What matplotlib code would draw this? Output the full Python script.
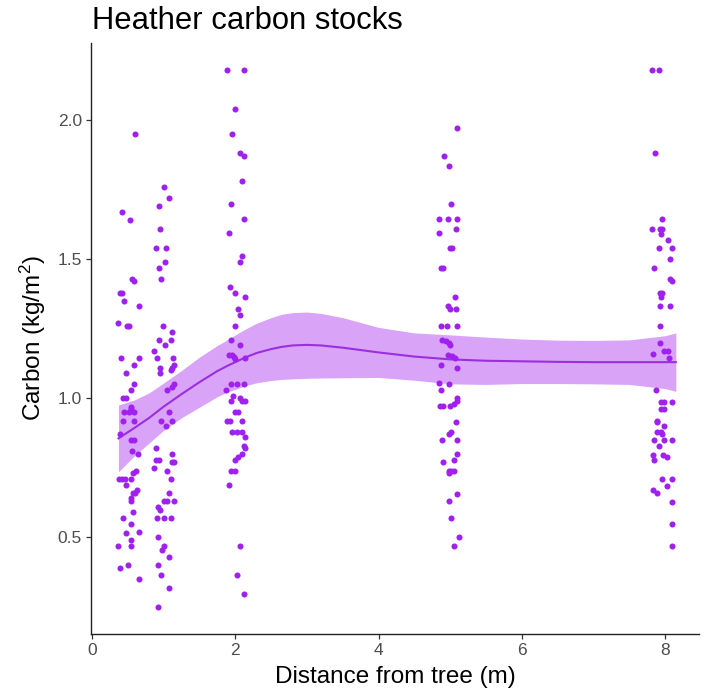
import matplotlib
matplotlib.use("Agg")
import matplotlib.pyplot as plt

plt.rcParams['font.family'] = ['Liberation Sans', 'DejaVu Sans']
plt.rcParams['mathtext.fontset'] = 'custom'
plt.rcParams['mathtext.rm'] = 'Liberation Sans'
plt.rcParams['mathtext.it'] = 'Liberation Sans:italic'

# heather carbon samples, jittered around 0.5, 1, 2, 5 and 8 m
dist_near = [0.60, 0.42, 0.53, 0.56, 0.59, 0.39, 0.42, 0.45, 0.66, 0.37, 0.49, 0.52,
             0.40, 0.65, 0.58, 0.48, 0.58, 0.55, 0.44, 0.48, 0.54, 0.55, 0.45, 0.51,
             0.58, 0.44, 0.59, 0.39, 0.54, 0.59, 0.56, 0.64, 0.62, 0.57, 0.38, 0.42,
             0.46, 0.55, 0.47, 0.63, 0.60, 0.57, 0.55, 0.54, 0.57, 0.43, 0.54, 0.65,
             0.47, 0.55, 0.54, 0.37, 0.39, 0.50, 0.65]
carbon_near = [1.95, 1.67, 1.64, 1.43, 1.42, 1.38, 1.38, 1.35, 1.33, 1.27, 1.26, 1.26,
               1.145, 1.145, 1.12, 1.09, 1.05, 1.03, 1.00, 1.00, 0.97, 0.96, 0.95, 0.95,
               0.95, 0.92, 0.92, 0.87, 0.85, 0.85, 0.81, 0.80, 0.74, 0.73, 0.71, 0.71,
               0.71, 0.71, 0.69, 0.67, 0.66, 0.66, 0.64, 0.63, 0.59, 0.57, 0.55, 0.52,
               0.515, 0.49, 0.47, 0.47, 0.39, 0.40, 0.35]

dist_1m = [1.00, 1.07, 0.94, 0.95, 0.89, 1.04, 1.02, 0.94, 0.97, 0.99, 1.12, 0.93,
           1.10, 1.02, 0.87, 0.91, 1.13, 0.95, 1.15, 1.12, 0.95, 1.10, 1.15, 1.12,
           1.05, 1.07, 0.97, 1.12, 1.03, 0.89, 1.12, 0.89, 0.93, 1.12, 1.14, 0.87,
           1.05, 1.10, 1.07, 1.01, 1.05, 1.14, 0.92, 0.95, 0.91, 1.00, 1.11, 0.92,
           1.00, 0.98, 1.08, 0.92, 0.97, 1.08, 0.92]
carbon_1m = [1.76, 1.72, 1.69, 1.61, 1.54, 1.54, 1.49, 1.47, 1.43, 1.26, 1.24, 1.21,
             1.21, 1.19, 1.17, 1.145, 1.145, 1.11, 1.12, 1.11, 1.09, 1.10, 1.05, 1.04,
             1.03, 0.95, 0.92, 0.92, 0.90, 0.82, 0.80, 0.78, 0.78, 0.77, 0.77, 0.75,
             0.74, 0.71, 0.66, 0.63, 0.63, 0.63, 0.61, 0.60, 0.57, 0.57, 0.57, 0.50,
             0.47, 0.455, 0.43, 0.40, 0.365, 0.32, 0.25]

dist_2m = [1.89, 2.12, 2.00, 1.96, 2.06, 2.12, 2.09, 1.94, 2.12, 1.91, 2.09, 2.07,
           1.93, 2.00, 2.14, 2.04, 2.07, 2.00, 1.94, 2.06, 1.91, 1.95, 1.98, 1.99,
           2.14, 1.94, 2.02, 2.12, 1.87, 1.97, 1.94, 2.07, 2.10, 2.14, 1.99, 2.04,
           1.89, 1.93, 2.09, 1.96, 2.02, 2.09, 2.14, 2.12, 2.14, 2.09, 2.04, 2.00,
           1.94, 2.00, 1.91, 2.06, 2.02, 2.12]
carbon_2m = [2.18, 2.18, 2.04, 1.95, 1.88, 1.87, 1.78, 1.70, 1.645, 1.595, 1.51, 1.49,
             1.40, 1.38, 1.365, 1.32, 1.30, 1.26, 1.21, 1.19, 1.157, 1.157, 1.15, 1.14,
             1.145, 1.05, 1.05, 1.05, 1.03, 1.01, 0.99, 1.00, 0.99, 0.99, 0.95, 0.95,
             0.92, 0.92, 0.92, 0.88, 0.88, 0.88, 0.86, 0.83, 0.82, 0.80, 0.79, 0.78,
             0.74, 0.74, 0.69, 0.47, 0.365, 0.295]

dist_5m = [5.10, 4.92, 4.98, 5.01, 4.85, 4.97, 5.10, 4.85, 5.08, 5.00, 5.03, 4.87,
           4.90, 5.07, 4.97, 5.00, 5.08, 4.87, 4.95, 5.10, 4.89, 4.94, 4.98, 5.00,
           4.97, 5.03, 5.07, 4.87, 5.10, 4.84, 4.98, 4.87, 4.86, 4.90, 5.00, 5.05,
           5.10, 5.10, 5.08, 5.01, 4.98, 4.88, 5.10, 5.10, 5.05, 4.90, 4.98, 5.01,
           5.05, 4.98, 5.10, 4.98, 5.01, 5.13, 5.05]
carbon_5m = [1.97, 1.87, 1.835, 1.70, 1.645, 1.645, 1.645, 1.595, 1.61, 1.54, 1.54, 1.47,
             1.47, 1.365, 1.33, 1.32, 1.32, 1.26, 1.26, 1.26, 1.21, 1.206, 1.20, 1.19,
             1.157, 1.152, 1.145, 1.12, 1.11, 1.054, 1.05, 1.03, 0.974, 0.974, 0.974, 0.98,
             0.99, 1.00, 0.915, 0.88, 0.87, 0.85, 0.85, 0.80, 0.78, 0.77, 0.74, 0.74,
             0.74, 0.73, 0.656, 0.63, 0.57, 0.50, 0.47]

dist_8m = [7.82, 7.91, 7.86, 7.96, 7.82, 7.93, 7.96, 7.94, 8.04, 7.91, 8.09, 8.07,
           7.84, 8.07, 8.09, 7.93, 7.96, 7.94, 7.93, 8.07, 7.93, 7.93, 7.99, 8.04,
           7.83, 8.06, 7.87, 7.94, 7.99, 8.09, 7.94, 7.99, 7.89, 7.88, 7.99, 7.89,
           7.96, 7.94, 7.84, 7.99, 8.09, 7.91, 7.83, 7.85, 7.97, 8.02, 7.96, 8.10,
           8.02, 7.83, 7.88, 8.09, 8.09, 8.10]
carbon_8m = [2.18, 2.18, 1.88, 1.645, 1.61, 1.61, 1.61, 1.59, 1.57, 1.54, 1.54, 1.50,
             1.47, 1.43, 1.42, 1.38, 1.38, 1.365, 1.33, 1.33, 1.26, 1.20, 1.17, 1.17,
             1.16, 1.145, 1.03, 0.987, 0.987, 0.987, 0.96, 0.96, 0.92, 0.915, 0.90, 0.88,
             0.87, 0.88, 0.85, 0.85, 0.85, 0.83, 0.795, 0.78, 0.795, 0.79, 0.71, 0.71,
             0.686, 0.67, 0.66, 0.627, 0.55, 0.47]

# loess fit and its confidence band
fit_x = [0.37, 0.6, 0.8, 1.0, 1.25, 1.5, 1.75, 1.9, 2.0, 2.15, 2.3, 2.5, 2.65, 2.8,
         3.0, 3.2, 3.5, 4.0, 4.5, 5.0, 5.5, 6.0, 6.5, 7.0, 7.5, 8.0, 8.15]
fit_y = [0.856, 0.895, 0.93, 0.97, 1.015, 1.058, 1.098, 1.118, 1.13, 1.148, 1.163, 1.177,
         1.185, 1.19, 1.192, 1.19, 1.182, 1.165, 1.15, 1.14, 1.135, 1.133, 1.131, 1.13,
         1.13, 1.13, 1.13]
fit_hi = [0.976, 0.995, 1.02, 1.055, 1.10, 1.148, 1.19, 1.212, 1.228, 1.25, 1.27, 1.29,
          1.302, 1.308, 1.31, 1.305, 1.29, 1.255, 1.235, 1.228, 1.22, 1.213, 1.209,
          1.208, 1.21, 1.225, 1.235]
fit_lo = [0.736, 0.795, 0.84, 0.885, 0.93, 0.968, 1.006, 1.024, 1.032, 1.046, 1.056, 1.064,
          1.068, 1.07, 1.072, 1.073, 1.074, 1.075, 1.065, 1.052, 1.05, 1.053, 1.053,
          1.052, 1.05, 1.035, 1.025]

x_ticks = [0, 2, 4, 6, 8]
y_ticks = [0.5, 1.0, 1.5, 2.0]
y_tick_labels = ['0.5', '1.0', '1.5', '2.0']

fig = plt.figure(figsize=(7.04, 6.88), dpi=100)
ax = fig.add_axes([0.1286, 0.0785, 0.865, 0.859])

pt_col = '#a020f0'
ax.fill_between(fit_x, fit_lo, fit_hi, color='#d9a3f7', lw=0, zorder=2)
ax.plot(fit_x, fit_y, color='#9a2ee0', lw=1.5, zorder=3)
for xs, ys in [(dist_near, carbon_near), (dist_1m, carbon_1m), (dist_2m, carbon_2m),
               (dist_5m, carbon_5m), (dist_8m, carbon_8m)]:
    ax.scatter(xs, ys, s=19, color=pt_col, linewidths=0, zorder=4)

ax.set_xlim(-0.02, 8.48)
ax.set_ylim(0.153, 2.277)
ax.set_xticks(x_ticks)
ax.set_yticks(y_ticks)
ax.set_yticklabels(y_tick_labels)

for side in ['top', 'right']:
    ax.spines[side].set_visible(False)
for side in ['left', 'bottom']:
    ax.spines[side].set_color('#222222')
    ax.spines[side].set_linewidth(1.0)
ax.tick_params(length=3.8, width=0.9, color='#333333', labelcolor='#4d4d4d',
               labelsize=12.5, pad=2.5)

ax.set_xlabel('Distance from tree (m)', fontsize=17.5, color='black')
ax.xaxis.label.set_va('baseline')
ax.xaxis.set_label_coords(0.5, -0.0834)
ax.set_ylabel(r'Carbon (kg/m$^{\mathregular{2}}$)', fontsize=17.5, color='black')
ax.yaxis.set_label_coords(-0.07, 0.5)

fig.text(91.7 / 704, 1 - 29.3 / 688, 'Heather carbon stocks', fontsize=22.3,
         ha='left', va='baseline', color='black')

fig.savefig('out.png', dpi=100, facecolor='white')
